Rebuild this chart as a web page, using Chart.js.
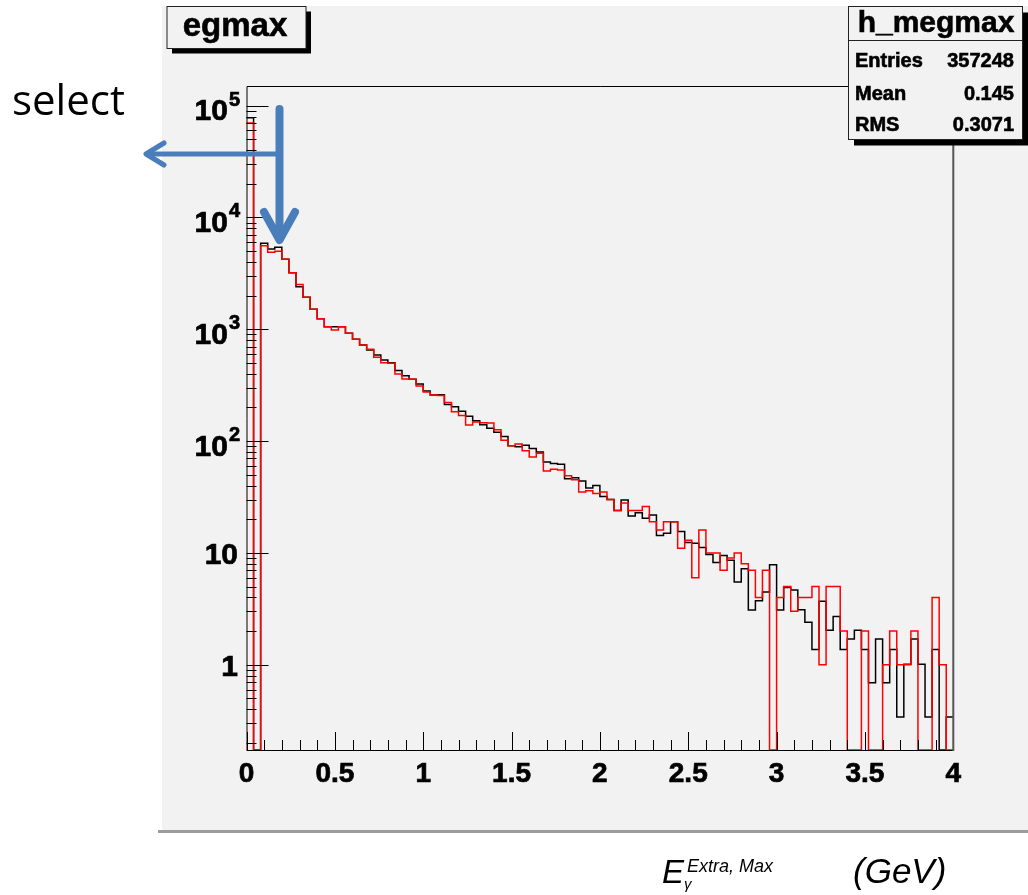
<!DOCTYPE html>
<html>
<head>
<meta charset="utf-8">
<title>egmax</title>
<script src="https://cdn.jsdelivr.net/npm/chart.js@4.4.1/dist/chart.umd.min.js"></script>
<style>
  html, body { margin: 0; padding: 0; background: #fff; }
  #wrap { position: relative; width: 1028px; height: 895px; overflow: hidden; }
  #c { position: absolute; left: 0; top: 0; }
  #ov { position: absolute; left: 0; top: 0; }
  .root { font-family: "Liberation Sans", Arial, sans-serif; font-weight: bold; fill: #000; stroke: #000; stroke-width: 0.6; }
</style>
</head>
<body>
<div id="wrap">
  <canvas id="c" width="1028" height="895"></canvas>
  <svg id="ov" width="1028" height="895">
    <!-- title box -->
    <rect x="172" y="11.5" width="139" height="42" fill="#000"/>
    <rect x="167" y="6.5" width="139" height="42" fill="#f2f2f2" stroke="#222" stroke-width="1"/>
    <text class="root" x="235" y="36" font-size="33" text-anchor="middle">egmax</text>

    <!-- stats box -->
    <rect x="854" y="12.5" width="174" height="133" fill="#000"/>
    <rect x="848.5" y="6.5" width="174" height="133" fill="#f2f2f2" stroke="#222" stroke-width="1"/>
    <line x1="848.5" y1="40.5" x2="1022.5" y2="40.5" stroke="#222" stroke-width="1"/>
    <text class="root" x="936" y="32" font-size="30" text-anchor="middle">h_megmax</text>
    <text class="root" x="855" y="67" font-size="20">Entries</text>
    <text class="root" x="1014" y="67" font-size="20" text-anchor="end">357248</text>
    <text class="root" x="855" y="100" font-size="20">Mean</text>
    <text class="root" x="1014" y="100" font-size="20" text-anchor="end">0.145</text>
    <text class="root" x="855" y="131" font-size="20">RMS</text>
    <text class="root" x="1014" y="131" font-size="20" text-anchor="end">0.3071</text>

    <!-- annotation -->
    <text x="12" y="115" font-family="'Open Sans', sans-serif" font-size="42" fill="#000">select</text>
    <g stroke="#4a7ebb" fill="none" stroke-linecap="round" stroke-linejoin="round">
      <line x1="279" y1="154" x2="148" y2="154" stroke-width="5"/>
      <polyline points="164,143 146,154 164,165" stroke-width="5"/>
      <line x1="279.5" y1="109" x2="279.5" y2="238" stroke-width="8"/>
      <polyline points="264,212 279.5,240 295,212" stroke-width="8"/>
    </g>

    <!-- x axis title -->
    <g font-family="'Liberation Sans', Arial, sans-serif" font-style="italic" fill="#000">
      <text x="662" y="883" font-size="33">E</text>
      <text x="687" y="872" font-size="18">Extra, Max</text>
      <text x="684" y="889" font-size="15">γ</text>
      <text x="853" y="883" font-size="35">(GeV)</text>
    </g>
  </svg>
</div>
<script>
const binWidth = 0.04;

// black histogram (bins of 0.04 GeV, 0 -> 4)
const blackCounts = [
  78000, 0, 5870, 5230, 5410, 4230, 3210, 2400, 1930, 1510,
  1245, 1055, 1055, 1055, 920, 814, 724, 653, 589, 531,
  502, 427, 385, 357, 324, 281, 258, 260, 213, 203,
  185, 167, 152, 140, 130, 120, 110, 91, 89, 92,
  86, 80, 65, 63, 62, 46, 47, 44, 38, 40,
  32, 30, 24, 29.7, 21.4, 22.9, 20.4, 21.8, 14.3, 15,
  19, 15.5, 12.4, 12.2, 11.2, 9.7, 8.2, 9.5, 8.6, 5.5,
  7.2, 3.08, 3.74, 4.47, 7.85, 3.08, 4.9, 4.66, 3.1, 2.4,
  1.37, 3.7, 2.03, 2.7, 1.37, 1.7, 2.03, 1.37, 0.69, 1.7,
  0.69, 1.37, 0.34, 1.01, 1.7, 1.01, 0.34, 1.37, 0, 0.34
];

// red histogram
const redCounts = [
  70000, 0, 5600, 4890, 4990, 4230, 3210, 2510, 1930, 1510,
  1245, 1055, 986, 1055, 920, 814, 724, 662, 561, 502,
  497, 398, 359, 357, 311, 275, 258, 256, 221, 183,
  169, 139, 148, 146, 145, 126, 102, 91, 94, 82,
  72, 78, 54, 56, 55, 49, 45, 35, 36, 34,
  35, 30, 24, 28, 24, 24, 26, 19, 16, 19,
  19, 11, 13, 6, 16, 10, 10, 7, 9, 10,
  8, 7, 4, 7, 0, 4, 5, 3, 4, 4,
  5, 1, 5, 5, 2, 0, 0, 2, 0, 0,
  1, 2, 1, 1, 2, 0, 0, 4, 1, 0
];

const xTickValues = [0, 0.5, 1, 1.5, 2, 2.5, 3, 3.5, 4];
const xTickLabels = ['0', '0.5', '1', '1.5', '2', '2.5', '3', '3.5', '4'];
const yTickValues = [1e5, 1e4, 1e3, 1e2, 10, 1];
const yTickBase = ['10', '10', '10', '10', '10', '1'];
const yTickExp = ['5', '4', '3', '2', '', ''];

const xMin = 0, xMax = 4;
const yMin = 0.1726, yMax = 1.5e5;

// left bin edges, stepped line keeps each value until the next edge
function histPoints(counts) {
  const pts = counts.map((c, i) => ({ x: i * binWidth, y: c > 0 ? c : yMin }));
  const last = counts[counts.length - 1];
  pts.push({ x: xMax, y: last > 0 ? last : yMin });
  return pts;
}

function boldText(ctx, s, x, y) {
  ctx.fillText(s, x, y);
  ctx.strokeText(s, x, y);
}

const rootFrame = {
  id: 'rootFrame',
  beforeDraw(chart) {
    const ctx = chart.ctx;
    ctx.save();
    ctx.fillStyle = '#ffffff';
    ctx.fillRect(0, 0, chart.width, chart.height);
    ctx.fillStyle = '#f2f2f2';
    ctx.fillRect(162, 6, 866, 824);
    ctx.fillStyle = '#9c9c9c';
    ctx.fillRect(158, 830, 870, 3);
    ctx.restore();
  },
  afterDatasetsDraw(chart) {
    const { ctx, chartArea: a, scales: { x, y } } = chart;
    ctx.save();

    // ticks, drawn inside the frame like ROOT does
    ctx.strokeStyle = '#000';
    ctx.lineWidth = 1;
    ctx.beginPath();
    for (let i = 0; i <= 40; i++) {
      const px = Math.round(x.getPixelForValue(i / 10)) + 0.5;
      const len = i % 5 === 0 ? 18 : 10;
      ctx.moveTo(px, a.bottom);
      ctx.lineTo(px, a.bottom - len);
    }
    for (let e = -1; e <= 5; e++) {
      for (let m = 1; m <= 9; m++) {
        const v = m * Math.pow(10, e);
        if (v < yMin || v > yMax) continue;
        const py = Math.round(y.getPixelForValue(v)) + 0.5;
        ctx.moveTo(a.left, py);
        ctx.lineTo(a.left + (m === 1 ? 22 : 10), py);
      }
    }
    ctx.stroke();

    // frame
    ctx.beginPath();
    ctx.moveTo(a.left + 0.5, a.bottom);
    ctx.lineTo(a.left + 0.5, a.top + 0.5);
    ctx.lineTo(a.right, a.top + 0.5);
    ctx.moveTo(a.left, a.bottom + 0.5);
    ctx.lineTo(a.right, a.bottom + 0.5);
    ctx.stroke();
    ctx.strokeStyle = '#555';
    ctx.lineWidth = 2;
    ctx.beginPath();
    ctx.moveTo(a.right, a.top);
    ctx.lineTo(a.right, a.bottom + 1);
    ctx.stroke();

    // tick labels
    ctx.fillStyle = '#000';
    ctx.strokeStyle = '#000';
    ctx.lineWidth = 0.7;
    ctx.textBaseline = 'alphabetic';
    ctx.font = 'bold 28px "Liberation Sans", Arial, sans-serif';
    ctx.textAlign = 'center';
    xTickValues.forEach((v, i) => {
      boldText(ctx, xTickLabels[i], x.getPixelForValue(v), 782);
    });
    ctx.textAlign = 'right';
    yTickValues.forEach((v, i) => {
      const py = y.getPixelForValue(v);
      if (yTickExp[i]) {
        ctx.font = 'bold 20px "Liberation Sans", Arial, sans-serif';
        boldText(ctx, yTickExp[i], 240, py);
        const w = ctx.measureText(yTickExp[i]).width;
        ctx.font = 'bold 30px "Liberation Sans", Arial, sans-serif';
        boldText(ctx, yTickBase[i], 240 - w - 1, py + 14.5);
      } else {
        ctx.font = 'bold 30px "Liberation Sans", Arial, sans-serif';
        boldText(ctx, yTickBase[i], 238, py + 11);
      }
    });
    ctx.restore();
  }
};

new Chart(document.getElementById('c'), {
  type: 'line',
  data: {
    datasets: [
      {
        label: 'red',
        data: histPoints(redCounts),
        borderColor: '#ff0000',
        borderWidth: 1.5,
        stepped: true,
        pointRadius: 0,
        fill: false,
        clip: 2,
        order: 0
      },
      {
        label: 'h_megmax',
        data: histPoints(blackCounts),
        borderColor: '#000000',
        borderWidth: 1.5,
        stepped: true,
        pointRadius: 0,
        fill: false,
        clip: 2,
        order: 1
      }
    ]
  },
  options: {
    responsive: false,
    animation: false,
    layout: { padding: { left: 246.5, right: 74.7, top: 86, bottom: 145 } },
    plugins: { legend: { display: false }, tooltip: { enabled: false } },
    scales: {
      x: { type: 'linear', display: false, min: xMin, max: xMax },
      y: { type: 'logarithmic', display: false, min: yMin, max: yMax }
    }
  },
  plugins: [rootFrame]
});
</script>
</body>
</html>
